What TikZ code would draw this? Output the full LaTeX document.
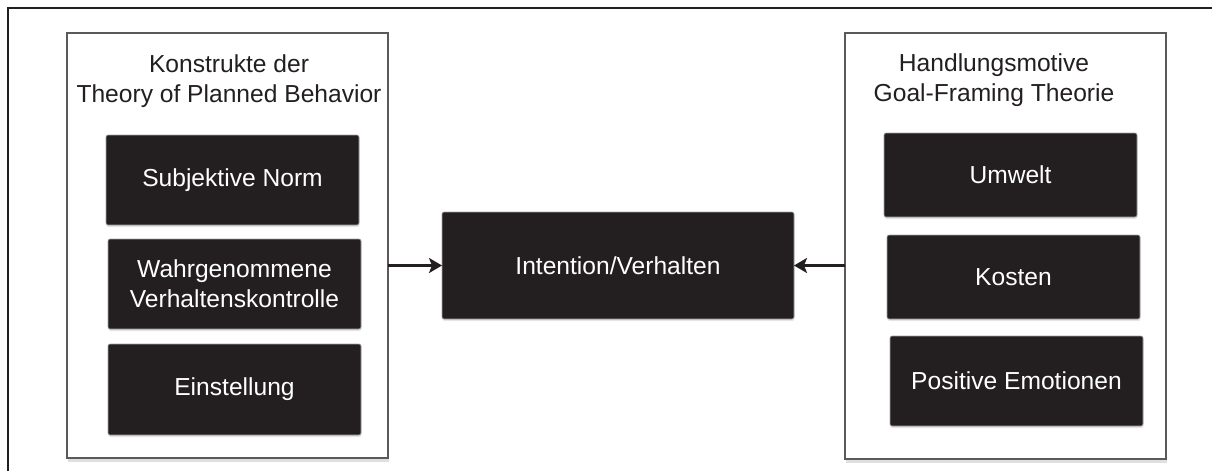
\documentclass[tikz,border=0pt]{standalone}
\usepackage{fontspec}
\setmainfont{Liberation Sans}
\usepackage{xcolor}
\usetikzlibrary{arrows.meta, shadows}
\definecolor{boxblack}{RGB}{35, 31, 32}
\definecolor{framegray}{RGB}{90, 90, 90}
\definecolor{textdark}{RGB}{35, 31, 32}

\begin{document}
\begin{tikzpicture}[
    x=1pt, y=-1pt,
    font=\fontsize{24.6}{30}\selectfont,
    group/.style={rectangle, draw=framegray, line width=1.6pt, fill=white, inner sep=0pt, outer sep=0pt, drop shadow={shadow xshift=1pt, shadow yshift=-4pt, opacity=0.25}},
    construct/.style={rectangle, rounded corners=2pt, draw=gray!70, line width=0.6pt, fill=boxblack, text=white, align=center, inner sep=0pt, outer sep=0pt, minimum width=253pt, drop shadow={shadow xshift=0.5pt, shadow yshift=-2pt, opacity=0.2}},
    grouptitle/.style={align=center, text=textdark},
    arrow/.style={-{Stealth[length=13pt, width=15pt, inset=3pt]}, line width=3.6pt, draw=boxblack}
]
\useasboundingbox (0,0) rectangle (1212,471);

% Outer frame
\draw[line width=2.4pt, boxblack] (8,471) -- (8,8) -- (1212,8);

% Theory of Planned Behavior
\node[group, minimum width=321pt, minimum height=425pt] (tpb) at (227.5,245.5) {};
\node[grouptitle] (tpbtitle) at (229,81) {Konstrukte der\\Theory of Planned Behavior};
\node[construct, minimum height=90pt] (subj) at (232.5,180) {Subjektive Norm};
\node[construct, minimum height=90pt] (wahr) at (234.5,284) {Wahrgenommene\\Verhaltenskontrolle};
\node[construct, minimum height=91pt] (einst) at (234.5,389.5) {Einstellung};

% Goal-Framing Theorie
\node[group, minimum width=321pt, minimum height=426pt] (gft) at (1005.5,246) {};
\node[grouptitle] (gfttitle) at (994,80) {Handlungsmotive\\Goal-Framing Theorie};
\node[construct, minimum height=84pt] (umwelt) at (1010.5,175) {Umwelt};
\node[construct, minimum height=84pt] (kosten) at (1013.5,277) {Kosten};
\node[construct, minimum height=90pt] (emo) at (1016.5,381) {Positive Emotionen};

% Intention
\node[construct, minimum width=352pt, minimum height=107pt] (intent) at (618,265.5) {Intention/Verhalten};

% Arrows
\draw[arrow] (tpb.east |- intent.west) -- (intent.west);
\draw[arrow] (gft.west |- intent.east) -- (intent.east);
\end{tikzpicture}
\end{document}
